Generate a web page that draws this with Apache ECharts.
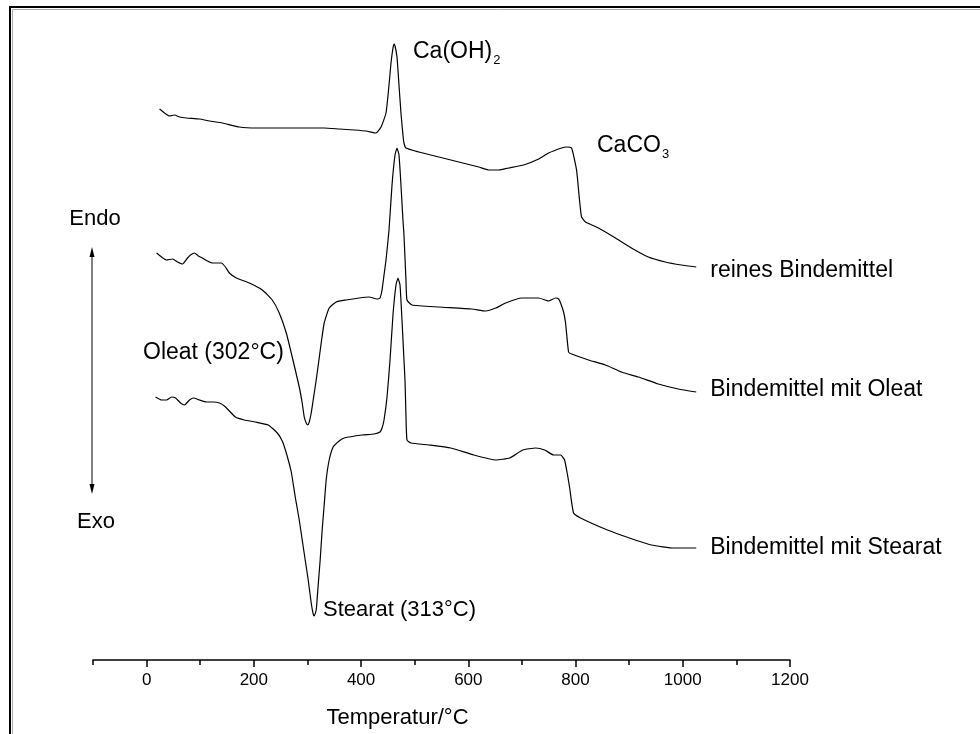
<!DOCTYPE html>
<html>
<head>
<meta charset="utf-8">
<script src="https://cdn.jsdelivr.net/npm/echarts@6/dist/echarts.min.js"></script>
<style>
html,body{margin:0;padding:0;background:#fff;}
#chart{width:980px;height:734px;}
</style>
</head>
<body>
<div id="chart"></div>
<script>
// Temperature (°C) and DTA signal (arbitrary units, curves stacked with offsets)
const seriesNames = ['reines Bindemittel', 'Bindemittel mit Oleat', 'Bindemittel mit Stearat'];

const reinesT = [24.2,33.5,42.8,52.1,61.4,74.4,98.6,117.2,141.4,173.0,204.7,234.4,266.0,297.7,331.2,359.1,387.0,409.3,427.9,437.2,446.5,452.1,455.8,459.5,461.4,463.3,467.0,470.7,474.4,478.1,480.0,483.7,507.9,545.1,582.3,619.5,638.1,656.7,675.3,703.3,731.2,749.8,774.0,783.3,792.6,801.9,807.4,811.2,818.6,842.8,874.4,904.2,935.8,967.4,997.2,1025.1];
const reinesV = [55.1,54.7,54.4,54.5,54.3,54.2,54.1,53.9,53.7,53.3,53.2,53.2,53.2,53.2,53.2,53.1,53.0,52.9,52.7,53.3,54.7,57.5,59.7,61.2,61.6,61.4,60.3,57.5,54.7,52.5,51.7,51.2,50.8,50.3,49.8,49.3,49.0,49.0,49.2,49.5,50.1,50.7,51.2,51.3,51.2,49.0,46.0,44.3,43.8,43.2,42.2,41.2,40.3,39.8,39.5,39.3];

const oleatT = [18.6,27.9,37.2,48.4,57.7,67.0,76.3,81.9,89.3,96.7,104.2,113.5,122.8,139.5,147.0,154.4,167.4,191.6,215.8,234.4,247.4,260.5,271.6,284.7,290.2,294.0,297.7,300.5,303.3,307.0,310.7,316.3,321.9,325.6,331.2,340.5,353.5,372.1,396.3,414.9,429.8,435.3,439.1,442.8,446.5,452.1,457.7,463.3,467.0,470.7,474.4,478.1,480.0,483.7,485.6,494.9,545.1,606.5,632.6,651.2,669.8,699.5,731.2,749.8,762.8,768.4,772.1,777.7,781.4,787.0,792.6,824.2,855.8,885.6,917.2,954.4,991.6,1025.1];
const oleatV = [40.7,40.3,40.0,40.1,39.8,39.6,40.2,40.5,40.7,40.4,40.2,39.9,39.7,39.7,39.3,38.7,38.2,37.7,37.0,36.0,34.7,32.7,30.3,27.3,25.7,24.3,23.7,23.5,23.8,24.7,26.0,28.0,30.2,31.7,33.7,35.2,35.8,36.0,36.2,36.3,36.1,36.2,37.0,38.5,40.0,43.0,47.5,50.5,51.2,50.5,47.5,44.0,42.5,38.0,36.0,35.5,35.3,35.1,34.9,35.2,35.7,36.2,36.2,35.9,36.2,36.1,35.7,34.8,33.7,30.8,30.6,30.0,29.5,28.8,28.3,27.6,27.1,26.8];

const stearatT = [16.7,27.9,37.2,46.5,54.0,63.3,70.7,80.0,87.4,98.6,111.6,124.7,135.8,145.1,152.6,165.6,182.3,202.8,227.0,243.7,253.0,260.5,269.8,277.2,284.7,290.2,295.8,301.4,307.0,310.7,312.6,316.3,320.0,323.7,327.4,331.2,334.9,340.5,347.9,359.1,368.4,401.9,424.2,435.3,439.1,442.8,448.4,454.0,459.5,465.1,468.8,472.6,476.3,480.0,481.9,483.7,485.6,493.0,526.5,567.4,610.2,651.2,677.2,701.4,725.6,742.3,759.1,772.1,779.5,785.1,788.8,796.3,809.3,859.5,900.5,941.4,984.2,1025.1];
const stearatV = [26.3,26.0,26.0,26.3,26.2,25.7,25.5,26.0,26.2,26.0,25.8,25.8,25.7,25.4,25.0,24.3,24.0,23.8,23.5,22.7,21.9,20.7,18.8,16.3,14.0,12.0,10.0,8.0,5.7,4.6,4.4,5.0,7.5,10.0,13.0,15.5,18.0,20.0,21.3,21.9,22.2,22.5,22.6,22.8,23.2,24.0,26.3,30.0,34.5,37.5,38.2,37.5,34.0,30.0,28.0,24.5,22.0,21.7,21.5,21.2,20.5,20.0,20.2,21.0,21.2,21.0,20.5,20.5,20.0,18.5,17.3,14.7,14.2,13.0,12.2,11.5,11.2,11.2];

const majorTicks = [0, 200, 400, 600, 800, 1000, 1200];
const minorTicks = [-100, 100, 300, 500, 700, 900, 1100];

const FONT = '"Liberation Sans", Arial, Helvetica, sans-serif';
const ANN = 23;

function zip(xs, ys) { return xs.map((x, i) => [x, ys[i]]); }

const chart = echarts.init(document.getElementById('chart'), null, {renderer: 'canvas'});

function mkSeries(name, xs, ys, offY) {
  return {
    name: name,
    type: 'line',
    data: zip(xs, ys),
    showSymbol: false,
    symbol: 'none',
    smooth: 0.15,
    lineStyle: {color: '#000', width: 1.2},
    endLabel: {
      show: true,
      formatter: '{a}',
      color: '#000',
      fontFamily: FONT,
      fontSize: ANN,
      distance: 14,
      offset: [0, offY]
    },
    emphasis: {disabled: true}
  };
}

const option = {
  animation: false,
  backgroundColor: '#fff',
  grid: {left: 93, right: 190, top: 0, bottom: 74, containLabel: false},
  xAxis: [
    {
      type: 'value', min: -100, max: 1200, interval: 100,
      position: 'bottom',
      name: 'Temperatur/°C',
      nameLocation: 'middle',
      nameGap: 47,
      nameTextStyle: {color: '#000', fontFamily: FONT, fontSize: 22, padding: [0, 88, 0, 0]},
      axisLine: {show: true, onZero: false, lineStyle: {color: '#000', width: 1.5}},
      axisTick: {show: true, inside: false, length: 7, customValues: majorTicks, lineStyle: {color: '#000', width: 1.5}},
      axisLabel: {show: true, customValues: majorTicks, margin: 12, color: '#000', fontFamily: FONT, fontSize: 17,
        formatter: function (v) { return String(v); }},
      splitLine: {show: false}
    },
    {
      type: 'value', min: -100, max: 1200, interval: 100,
      position: 'bottom',
      axisLine: {show: false, onZero: false},
      axisTick: {show: true, inside: false, length: 5, customValues: minorTicks, lineStyle: {color: '#000', width: 1.5}},
      axisLabel: {show: false},
      splitLine: {show: false}
    }
  ],
  yAxis: {type: 'value', min: 0, max: 66, show: false},
  series: [
    mkSeries(seriesNames[0], reinesT, reinesV, 4),
    mkSeries(seriesNames[1], oleatT, oleatV, -2),
    mkSeries(seriesNames[2], stearatT, stearatV, 0)
  ],
  graphic: [
    {type: 'rect', silent: true, shape: {x: 10, y: 7, width: 1000, height: 800}, style: {fill: 'none', stroke: '#000', lineWidth: 2}},
    {type: 'rect', silent: true, shape: {x: 12.5, y: 9.5, width: 1000, height: 800}, style: {fill: 'none', stroke: '#aaa', lineWidth: 1}},
    {type: 'line', silent: true, shape: {x1: 92, y1: 252, x2: 92, y2: 489}, style: {stroke: '#000', lineWidth: 1}},
    {type: 'polygon', silent: true, shape: {points: [[92, 247], [89.5, 257], [94.5, 257]]}, style: {fill: '#000'}},
    {type: 'polygon', silent: true, shape: {points: [[92, 494], [89.5, 484], [94.5, 484]]}, style: {fill: '#000'}},
    {type: 'text', silent: true, style: {text: 'Endo', x: 95, y: 219, align: 'center', verticalAlign: 'middle', fill: '#000', font: '22px ' + FONT}},
    {type: 'text', silent: true, style: {text: 'Exo', x: 96, y: 522, align: 'center', verticalAlign: 'middle', fill: '#000', font: '22px ' + FONT}},
    {type: 'text', silent: true, style: {text: 'Oleat (302°C)', x: 143, y: 353, align: 'left', verticalAlign: 'middle', fill: '#000', font: ANN + 'px ' + FONT}},
    {type: 'text', silent: true, style: {text: 'Stearat (313°C)', x: 323, y: 610, align: 'left', verticalAlign: 'middle', fill: '#000', font: '22px ' + FONT}},
    {type: 'text', silent: true, style: {
      text: '{a|Ca(OH)}{s|2}', x: 413, y: 52, align: 'left', verticalAlign: 'middle',
      rich: {a: {fontFamily: FONT, fontSize: ANN, fill: '#000'}, s: {fontFamily: FONT, fontSize: 13, fill: '#000', padding: [16, 0, 0, 1]}}
    }},
    {type: 'text', silent: true, style: {
      text: '{a|CaCO}{s|3}', x: 597, y: 146, align: 'left', verticalAlign: 'middle',
      rich: {a: {fontFamily: FONT, fontSize: ANN, fill: '#000'}, s: {fontFamily: FONT, fontSize: 13, fill: '#000', padding: [16, 0, 0, 1]}}
    }}
  ]
};

chart.setOption(option);
</script>
</body>
</html>
